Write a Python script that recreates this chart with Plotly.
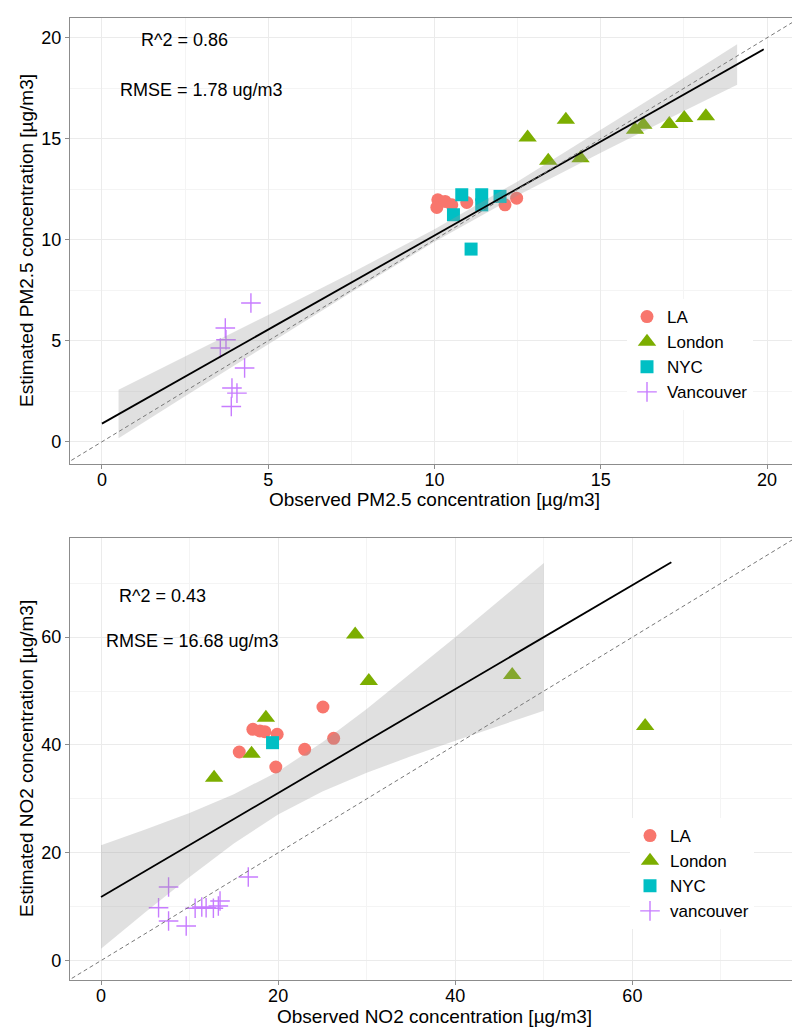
import plotly.graph_objects as go

# ---- PM2.5 panel data ----
la_pm_x = [10.1, 10.07, 10.32, 10.52, 10.97, 12.12, 12.47]
la_pm_y = [11.98, 11.6, 11.9, 11.73, 11.85, 11.73, 12.06]
london_pm_x = [12.8, 13.95, 13.42, 14.39, 16.03, 16.28, 17.06, 17.51, 18.16]
london_pm_y = [15.07, 15.94, 13.91, 14.04, 15.45, 15.69, 15.73, 16.03, 16.11]
nyc_pm_x = [10.82, 11.42, 11.97, 10.57, 11.42, 11.1]
nyc_pm_y = [12.23, 12.23, 12.15, 11.24, 11.73, 9.54]
van_pm_x = [4.48, 3.71, 3.73, 3.56, 4.29, 3.91, 4.06, 3.89]
van_pm_y = [6.87, 5.63, 5.05, 4.64, 3.65, 2.66, 2.41, 1.75]

# fitted line and confidence band
fit_pm_x = [0, 19.9]
fit_pm_y = [0.9, 19.43]
band_pm_x = [0.5, 2.5, 5, 7.5, 10, 12.5, 15, 17.5, 19.1]
band_pm_hi = [2.57, 4.21, 6.28, 8.36, 10.52, 12.89, 15.43, 18.01, 19.68]
band_pm_lo = [0.17, 2.25, 4.84, 7.4, 9.9, 12.19, 14.31, 16.37, 17.68]

# ---- NO2 panel data ----
la_no2_x = [15.61, 17.15, 17.94, 18.5, 19.89, 19.74, 23.0, 25.06, 26.27]
la_no2_y = [38.7, 42.9, 42.6, 42.47, 41.99, 35.92, 39.2, 47.05, 41.24]
london_no2_x = [12.77, 17.0, 18.62, 28.7, 30.24, 46.43, 61.44]
london_no2_y = [33.93, 38.39, 45.07, 60.5, 51.87, 52.99, 43.53]
nyc_no2_x = [19.37]
nyc_no2_y = [40.43]
van_no2_x = [7.63, 6.5, 7.63, 9.62, 10.63, 11.38, 11.87, 12.69, 13.25, 13.44, 16.63]
van_no2_y = [13.65, 9.81, 7.35, 6.42, 9.7, 9.94, 9.81, 9.7, 10.13, 11.06, 15.51]

fit_no2_x = [0, 64.4]
fit_no2_y = [11.8, 73.9]
band_no2_x = [0, 5, 10, 15, 20, 25, 30, 35, 40, 45, 50]
band_no2_hi = [21.4, 24.3, 27.37, 30.84, 35.1, 40.49, 46.67, 53.25, 60.0, 66.83, 73.75]
band_no2_lo = [2.2, 8.96, 15.53, 21.72, 27.1, 31.37, 34.83, 37.91, 40.8, 43.63, 46.35]

FONT = "Arial, Liberation Sans, sans-serif"
cols = {"LA": "#F8766D", "London": "#7CAE00", "NYC": "#00BFC4", "Vancouver": "#C77CFF"}

fig = go.Figure()


def add_panel(xa, ya, leg, series, bx, bhi, blo, fx, fy, diag):
    for name, xs, ys, sym, size in series:
        key = "Vancouver" if name.lower() == "vancouver" else name
        marker = dict(symbol=sym, size=size, color=cols[key])
        if sym == "cross-thin":
            marker["line"] = dict(color=cols[key], width=1.4)
        fig.add_trace(go.Scatter(x=xs, y=ys, mode="markers", name=name, marker=marker,
                                 xaxis=xa, yaxis=ya, legend=leg))
    # confidence band drawn over the points, as ggplot does
    fig.add_trace(go.Scatter(x=bx + bx[::-1], y=bhi + blo[::-1], fill="toself",
                             fillcolor="rgba(153,153,153,0.3)", line=dict(width=0),
                             mode="lines", showlegend=False, hoverinfo="skip",
                             xaxis=xa, yaxis=ya))
    fig.add_trace(go.Scatter(x=fx, y=fy, mode="lines", line=dict(color="black", width=1.8),
                             showlegend=False, xaxis=xa, yaxis=ya))
    fig.add_trace(go.Scatter(x=diag, y=diag, mode="lines",
                             line=dict(color="#777777", width=1, dash="4px,3px"),
                             showlegend=False, xaxis=xa, yaxis=ya))


add_panel("x", "y", "legend",
          [("LA", la_pm_x, la_pm_y, "circle", 13),
           ("London", london_pm_x, london_pm_y, "triangle-up", 16),
           ("NYC", nyc_pm_x, nyc_pm_y, "square", 13),
           ("Vancouver", van_pm_x, van_pm_y, "cross-thin", 14)],
          band_pm_x, band_pm_hi, band_pm_lo, fit_pm_x, fit_pm_y, [-2, 22])

add_panel("x2", "y2", "legend2",
          [("LA", la_no2_x, la_no2_y, "circle", 13),
           ("London", london_no2_x, london_no2_y, "triangle-up", 16),
           ("NYC", nyc_no2_x, nyc_no2_y, "square", 13),
           ("vancouver", van_no2_x, van_no2_y, "cross-thin", 14)],
          band_no2_x, band_no2_hi, band_no2_lo, fit_no2_x, fit_no2_y, [-6, 85])

H = 1033.0


def py(p):
    return 1 - p / H


axis_common = dict(showline=True, mirror=True, linecolor="#8C8C8C", linewidth=1.2,
                   showgrid=True, gridcolor="#EBEBEB", gridwidth=1, zeroline=False,
                   ticks="outside", ticklen=4, tickcolor="#8C8C8C",
                   tickfont=dict(family=FONT, size=18, color="black"))
xgap = dict(ticklabelstandoff=-5)

fig.update_layout(
    width=800, height=1033, margin=dict(l=0, r=0, t=0, b=0),
    plot_bgcolor="white", paper_bgcolor="white",
    font=dict(family=FONT, color="black"),
    xaxis=dict(axis_common, **xgap, domain=[62 / 800, 790 / 800], range=[-0.96, 20.93], dtick=5,
               minor=dict(dtick=2.5, showgrid=True, gridcolor="#F4F4F4")),
    yaxis=dict(axis_common, domain=[py(456), py(10)], range=[-1.1, 20.98], dtick=5,
               minor=dict(dtick=2.5, showgrid=True, gridcolor="#F4F4F4")),
    xaxis2=dict(axis_common, **xgap, domain=[62 / 800, 790 / 800], range=[-3.5, 78.7], dtick=20,
                minor=dict(dtick=10, showgrid=True, gridcolor="#F4F4F4"), anchor="y2"),
    yaxis2=dict(axis_common, domain=[py(972), py(530)], range=[-3.6, 78.4], dtick=20,
                minor=dict(dtick=10, showgrid=True, gridcolor="#F4F4F4"), anchor="x2"),
    legend=dict(x=619 / 800, y=py(291), xanchor="left", yanchor="top", bgcolor="white",
                font=dict(family=FONT, size=17), tracegroupgap=0, itemsizing="trace"),
    legend2=dict(x=622 / 800, y=py(810), xanchor="left", yanchor="top", bgcolor="white",
                 font=dict(family=FONT, size=17), tracegroupgap=0, itemsizing="trace"),
)

# in-panel statistics
notes = [("x", "y", 2.48, 19.9, "R^2 = 0.86"),
         ("x", "y", 2.99, 17.4, "RMSE = 1.78 ug/m3"),
         ("x2", "y2", 6.9, 67.6, "R^2 = 0.43"),
         ("x2", "y2", 10.35, 59.3, "RMSE = 16.68 ug/m3")]
for xr, yr, xv, yv, txt in notes:
    fig.add_annotation(x=xv, y=yv, xref=xr, yref=yr, text=txt, showarrow=False,
                       font=dict(family=FONT, size=18, color="black"))

# axis titles
titles = [(426 / 800, py(491), 0, "Observed PM2.5 concentration [µg/m3]"),
          (18 / 800, py(233), -90, "Estimated PM2.5 concentration [µg/m3]"),
          (426 / 800, py(1008), 0, "Observed NO2 concentration [µg/m3]"),
          (18 / 800, py(751), -90, "Estimated NO2 concentration [µg/m3]")]
for xp, yp, ang, txt in titles:
    fig.add_annotation(x=xp, y=yp, xref="paper", yref="paper", text=txt, showarrow=False,
                       textangle=ang, xanchor="center", yanchor="middle",
                       font=dict(family=FONT, size=19, color="black"))

fig.write_html("out.html")
